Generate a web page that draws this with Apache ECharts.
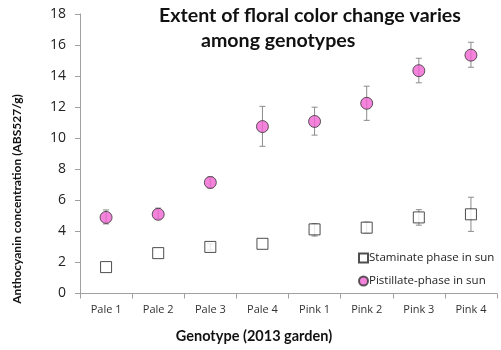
<!DOCTYPE html>
<html>
<head>
<meta charset="utf-8">
<style>
  html, body { margin: 0; padding: 0; background: #fff; }
  #chart { width: 501px; height: 350px; }
</style>
<script src="https://cdn.jsdelivr.net/npm/echarts@6/dist/echarts.min.js"></script>
</head>
<body>
<div id="chart"></div>
<script>
// Genotypes on the x axis
const genotypes = ['Pale 1', 'Pale 2', 'Pale 3', 'Pale 4', 'Pink 1', 'Pink 2', 'Pink 3', 'Pink 4'];

// Staminate phase in sun: mean and error-bar limits
const staminateMean = [1.7, 2.6, 3.0, 3.2, 4.13, 4.24, 4.9, 5.1];
const staminateLow  = [1.7, 2.6, 2.8, 3.2, 3.7, 3.9, 4.4, 4.0];
const staminateHigh = [1.7, 2.6, 3.2, 3.2, 4.5, 4.6, 5.4, 6.2];

// Pistillate phase in sun: mean and error-bar limits
const pistillateMean = [4.9, 5.1, 7.15, 10.75, 11.08, 12.25, 14.35, 15.35];
const pistillateLow  = [4.48, 4.8, 6.8, 9.48, 10.2, 11.15, 13.57, 14.57];
const pistillateHigh = [5.38, 5.5, 7.5, 12.05, 12.0, 13.35, 15.15, 16.18];

const yTicks = { min: 0, max: 18, interval: 2 };

const pink = '#f064d2';
const errColor = '#8c8c8c';
const font = 'Open Sans';
const boldFont = 'Lato';

function errorSeries(low, high) {
  return {
    type: 'custom',
    silent: true,
    z: 1,
    data: genotypes.map((g, i) => [i, low[i], high[i]]),
    renderItem: function (params, api) {
      const lo = api.value(1), hi = api.value(2);
      if (lo === hi) return null;
      const top = api.coord([api.value(0), hi]);
      const bot = api.coord([api.value(0), lo]);
      const x = top[0], cap = 3;
      const st = { stroke: errColor, lineWidth: 1 };
      return {
        type: 'group',
        children: [
          { type: 'line', shape: { x1: x, y1: top[1], x2: x, y2: bot[1] }, style: st },
          { type: 'line', shape: { x1: x - cap, y1: top[1], x2: x + cap, y2: top[1] }, style: st },
          { type: 'line', shape: { x1: x - cap, y1: bot[1], x2: x + cap, y2: bot[1] }, style: st }
        ]
      };
    }
  };
}

const chart = echarts.init(document.getElementById('chart'));
chart.setOption({
  animation: false,
  grid: { left: 80, right: 4, top: 14, bottom: 56.5 },
  xAxis: {
    type: 'category',
    data: genotypes,
    boundaryGap: true,
    axisLine: { lineStyle: { color: '#a0a0a0' } },
    axisTick: { show: true, length: 5, lineStyle: { color: '#a0a0a0' } },
    axisLabel: { color: '#333', fontFamily: font, fontSize: 11, margin: 11 },
    splitLine: { show: false }
  },
  yAxis: {
    type: 'value',
    min: yTicks.min, max: yTicks.max, interval: yTicks.interval,
    axisLine: { show: true, lineStyle: { color: '#a0a0a0' } },
    axisTick: { show: true, length: 5, lineStyle: { color: '#a0a0a0' } },
    axisLabel: { color: '#222', fontFamily: font, fontSize: 14, margin: 14 },
    splitLine: { show: false }
  },
  legend: {
    orient: 'vertical',
    left: 353,
    top: 247,
    itemWidth: 9,
    itemHeight: 9,
    itemGap: 11,
    textStyle: { fontFamily: font, fontSize: 11.5, color: '#222', padding: [0, 0, 0, -4] },
    data: [
      { name: 'Staminate phase in sun', icon: 'rect' },
      { name: 'Pistillate-phase in sun', icon: 'circle' }
    ]
  },
  series: [
    errorSeries(staminateLow, staminateHigh),
    errorSeries(pistillateLow, pistillateHigh),
    {
      name: 'Staminate phase in sun',
      type: 'scatter',
      symbol: 'rect',
      symbolSize: 11,
      z: 3,
      itemStyle: { color: '#fff', borderColor: '#222', borderWidth: 1 },
      data: staminateMean
    },
    {
      name: 'Pistillate-phase in sun',
      type: 'scatter',
      symbol: 'circle',
      symbolSize: 12,
      z: 3,
      itemStyle: { color: pink, borderColor: '#333', borderWidth: 1 },
      data: pistillateMean
    }
  ],
  graphic: [
    {
      type: 'text', left: 159, top: 6,
      style: { text: 'Extent of floral color change varies', fontFamily: boldFont, fontWeight: 'bold', fontSize: 19.6, fill: '#111' }
    },
    {
      type: 'text', left: 201, top: 31,
      style: { text: 'among genotypes', fontFamily: boldFont, fontWeight: 'bold', fontSize: 19.6, fill: '#111' }
    },
    {
      type: 'text', x: 17, y: 199, rotation: Math.PI / 2,
      style: { text: 'Anthocyanin concentration (ABS527/g)', fontFamily: boldFont, fontWeight: 'bold', fontSize: 12, fill: '#111', align: 'center', verticalAlign: 'middle' }
    },
    {
      type: 'text', x: 254, y: 336,
      style: { text: 'Genotype (2013 garden)', fontFamily: boldFont, fontWeight: 'bold', fontSize: 14.5, fill: '#111', align: 'center', verticalAlign: 'middle' }
    }
  ]
});
</script>
</body>
</html>
